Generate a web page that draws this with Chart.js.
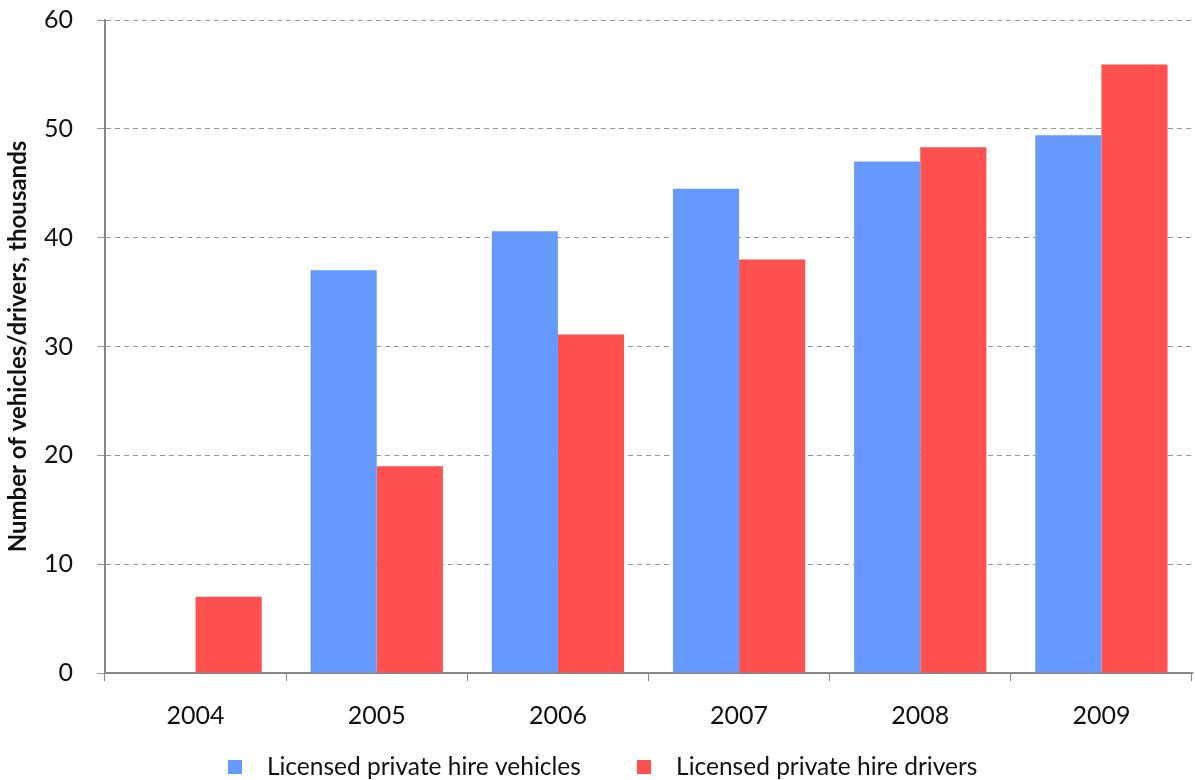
<!DOCTYPE html>
<html>
<head>
<meta charset="utf-8">
<script src="https://cdn.jsdelivr.net/npm/chart.js@4"></script>
<style>
  html, body { margin: 0; padding: 0; background: #fff; }
  #wrap { width: 1195px; height: 780px; }
</style>
</head>
<body>
<div id="wrap"><canvas id="chart" width="1195" height="780"></canvas></div>
<script>
const years = ['2004', '2005', '2006', '2007', '2008', '2009'];
const vehicles = [null, 37.0, 40.6, 44.5, 47.0, 49.4];
const drivers = [7.0, 19.0, 31.1, 38.0, 48.3, 55.9];
const yTicks = [0, 10, 20, 30, 40, 50, 60];

const FONT = 'Lato, "Open Sans", sans-serif';
const LEGEND_GAP = 43;
const LEGEND_H = LEGEND_GAP + 25;
const BOTTOM_H = 107;   // x axis + legend, below the plot

// small square swatch used as the legend marker
function swatch(color) {
  const c = document.createElement('canvas');
  c.width = 14; c.height = 14;
  const g = c.getContext('2d');
  g.fillStyle = color;
  g.fillRect(0, 0, 14, 14);
  return c;
}

const ctx = document.getElementById('chart').getContext('2d');
new Chart(ctx, {
  type: 'bar',
  data: {
    labels: years,
    datasets: [
      { label: 'Licensed private hire vehicles', data: vehicles, backgroundColor: '#6699ff',
        categoryPercentage: 0.73, barPercentage: 1.0 },
      { label: 'Licensed private hire drivers', data: drivers, backgroundColor: '#ff5050',
        categoryPercentage: 0.73, barPercentage: 1.0 }
    ]
  },
  options: {
    responsive: false,
    animation: false,
    layout: { padding: { top: 20, right: 3, left: 0, bottom: 0 } },
    plugins: {
      tooltip: { enabled: false },
      legend: {
        position: 'bottom',
        // wide gap between items, but keep the box short so it hugs the bottom edge
        maxHeight: LEGEND_H,
        labels: {
          usePointStyle: true, pointStyleWidth: 40, boxHeight: 14, padding: LEGEND_GAP,
          color: '#111', font: { family: FONT, size: 24.5 },
          generateLabels: chart => Chart.defaults.plugins.legend.labels.generateLabels(chart)
            .map(item => Object.assign(item, { pointStyle: swatch(item.fillStyle) }))
        }
      }
    },
    scales: {
      x: {
        offset: true,
        grid: { offset: true, drawOnChartArea: false, drawTicks: true, tickLength: 8, color: '#888', lineWidth: 1 },
        border: { color: '#888', width: 2 },
        // mirrored labels are not clipped to the (short) axis box; negative padding pushes them down
        ticks: { color: '#111', font: { family: FONT, size: 25 }, mirror: true, padding: -58 },
        afterFit: s => { s.height = BOTTOM_H - LEGEND_H; }
      },
      y: {
        min: 0, max: 60,
        afterBuildTicks: s => { s.ticks = yTicks.map(v => ({ value: v })); },
        grid: { color: '#999', lineWidth: 1, tickLength: 8, tickColor: '#999' },
        border: { color: '#888', width: 2, dash: [5, 4] },
        ticks: { color: '#111', font: { family: FONT, size: 25 }, padding: 24 },
        title: { display: true, text: 'Number of vehicles/drivers, thousands', color: '#111',
          font: { family: FONT, size: 24, weight: 'bold' }, padding: { bottom: 2 } },
        afterFit: s => { s.width = 105; s.paddingTop = 0; s.paddingBottom = 0; }
      }
    }
  }
});
</script>
</body>
</html>
